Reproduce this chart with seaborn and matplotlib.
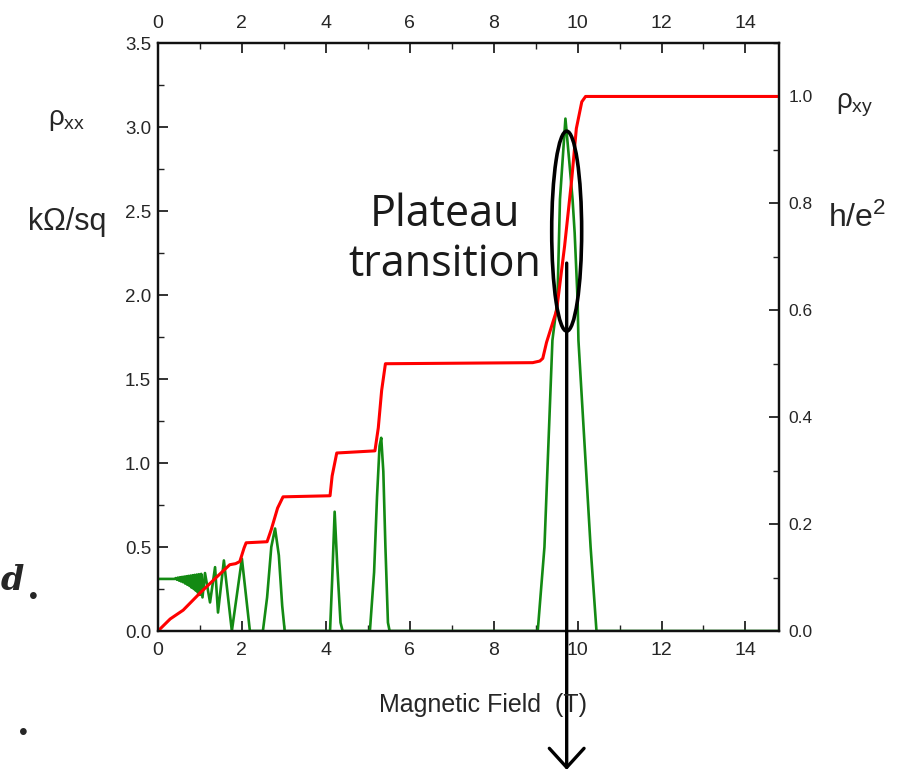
import numpy as np
import pandas as pd
import matplotlib
matplotlib.use("Agg")
import matplotlib.pyplot as plt
import matplotlib.transforms as mtransforms
from matplotlib.patches import Ellipse
from matplotlib.ticker import MultipleLocator, FormatStrFormatter
import seaborn as sns

# rho_xx (kOhm/sq, left axis)
b_xx = [0.0, 0.400, 0.425, 0.450, 0.475, 0.500, 0.525, 0.550, 0.575, 0.600, 0.625,
        0.650, 0.675, 0.700, 0.725, 0.750, 0.775, 0.800, 0.825, 0.850, 0.875,
        0.900, 0.925, 0.950, 0.975, 1.000, 1.030, 1.060,
        1.12, 1.24, 1.36, 1.43, 1.57, 1.76, 2.00, 2.19,
        2.50, 2.60, 2.70, 2.79, 2.88, 2.96, 3.02,
        4.10, 4.15, 4.21, 4.27, 4.35, 4.40,
        5.05, 5.15, 5.22, 5.28, 5.32, 5.37, 5.42, 5.48, 5.52,
        9.05, 9.21, 9.40, 9.52, 9.58, 9.71, 9.80, 9.88, 9.93, 10.00, 10.02,
        10.31, 10.45, 14.8]
rho_xx = [0.31, 0.310, 0.315, 0.305, 0.318, 0.300, 0.320, 0.295, 0.322, 0.290, 0.324,
          0.282, 0.326, 0.275, 0.328, 0.268, 0.330, 0.258, 0.332, 0.250, 0.334,
          0.240, 0.336, 0.228, 0.338, 0.215, 0.340, 0.200,
          0.345, 0.17, 0.38, 0.11, 0.42, 0.0, 0.43, 0.0,
          0.0, 0.2, 0.5, 0.61, 0.45, 0.15, 0.0,
          0.0, 0.3, 0.71, 0.4, 0.05, 0.0,
          0.0, 0.35, 0.8, 1.1, 1.15, 0.95, 0.5, 0.05, 0.0,
          0.0, 0.5, 1.73, 1.97, 2.57, 3.05, 2.8, 2.57, 2.37, 1.97, 1.73,
          0.5, 0.0, 0.0]

# rho_xy (h/e^2, right axis)
b_xy = [0.0, 0.29, 0.60, 1.00, 1.40, 1.71, 1.85, 1.95, 2.05, 2.10, 2.60, 2.70,
        2.85, 2.98, 4.10, 4.15, 4.26, 5.17, 5.25, 5.33, 5.42, 8.93, 9.10,
        9.17, 9.26, 9.50, 9.69, 9.86, 9.97, 10.10, 10.19, 14.8]
rho_xy = [0.0, 0.0225, 0.039, 0.071, 0.101, 0.124, 0.126, 0.13, 0.155, 0.165, 0.167, 0.19,
          0.23, 0.251, 0.253, 0.29, 0.333, 0.337, 0.38, 0.45, 0.5, 0.502, 0.505,
          0.51, 0.54, 0.60, 0.72, 0.845, 0.94, 0.99, 1.0, 1.0]

df_xx = pd.DataFrame({"B": b_xx, "rho": rho_xx})
df_xy = pd.DataFrame({"B": b_xy, "rho": rho_xy})

sns.set_theme(style="ticks")
plt.rcParams["font.family"] = ["Liberation Sans", "DejaVu Sans"]
plt.rcParams["mathtext.fontset"] = "custom"
plt.rcParams["mathtext.rm"] = "Liberation Sans"
plt.rcParams["mathtext.it"] = "Liberation Sans"

fig = plt.figure(figsize=(9.03, 7.73), dpi=100)
ax = fig.add_axes([158 / 903, 1 - 631 / 773, 621 / 903, 588 / 773])
ax2 = ax.twinx()

sns.lineplot(data=df_xx, x="B", y="rho", ax=ax, color="#138a13", lw=1.9,
             sort=False, estimator=None)
sns.lineplot(data=df_xy, x="B", y="rho", ax=ax2, color="#ff0000", lw=2.2,
             sort=False, estimator=None)

ax.set_xlim(0, 14.8)
ax.set_ylim(0, 3.5)
ax2.set_ylim(0, 1.1)
ax.set_xlabel("")
ax.set_ylabel("")
ax2.set_ylabel("")

ax.xaxis.set_major_locator(MultipleLocator(2))
ax.xaxis.set_minor_locator(MultipleLocator(1))
ax.yaxis.set_major_locator(MultipleLocator(0.5))
ax.yaxis.set_minor_locator(MultipleLocator(0.25))
ax.yaxis.set_major_formatter(FormatStrFormatter("%.1f"))
ax2.set_yticks([0, 0.2, 0.4, 0.6, 0.8, 1.0])
ax2.yaxis.set_minor_locator(MultipleLocator(0.1))
ax2.yaxis.set_major_formatter(FormatStrFormatter("%.1f"))

ax.tick_params(axis="x", which="both", direction="in", top=True, labeltop=True,
               labelsize=14, pad=8)
ax.tick_params(axis="y", which="both", direction="in", labelsize=13.5, pad=5)
ax2.tick_params(axis="y", which="both", direction="in", labelsize=12.5, pad=7)
for a in (ax, ax2):
    a.tick_params(which="major", length=7, width=1.3, color="#222222")
    a.tick_params(which="minor", length=4, width=1.0, color="#222222")
    for s in a.spines.values():
        s.set_visible(True)
        s.set_linewidth(1.6)
        s.set_color("#111111")

# axis titles
fig.text(67 / 903, 1 - 120 / 773, r"$\rho_{\rm xx}$", fontsize=20, ha="center", va="center")
fig.text(67 / 903, 1 - 222 / 773, "kΩ/sq", fontsize=22, ha="center", va="center")
fig.text(855 / 903, 1 - 105 / 773, r"$\rho_{\rm xy}$", fontsize=20, ha="center", va="center")
fig.text(828 / 903, 1 - 218 / 773, r"h/e$^{2}$", fontsize=23, ha="left", va="center")
fig.text(483 / 903, 1 - 705 / 773, "Magnetic Field  (T)", fontsize=18, ha="center", va="center")

# annotation
tr = ax.transData
ax2.text(6.83, 2.33, "Plateau\ntransition", transform=tr, fontsize=31,
         family=["Open Sans", "DejaVu Sans"], color="#1a1a1a",
         ha="center", va="center", linespacing=1.15)
ax2.add_patch(Ellipse((9.74, 2.38), 0.714, 1.19, transform=tr, fill=False,
                      ec="black", lw=2.6, zorder=5))
blend = mtransforms.blended_transform_factory(ax.transData, fig.transFigure)
ax2.annotate("", xy=(9.74, 0.004), xycoords=blend, xytext=(9.74, 2.19), textcoords=tr,
             arrowprops=dict(arrowstyle="->,head_length=0.55,head_width=0.5",
                             lw=2.4, color="black", mutation_scale=25,
                             shrinkA=0, shrinkB=0),
             annotation_clip=False, zorder=5)

# handwritten marks at the left edge
fig.text(1 / 903, 1 - 580 / 773, "d", fontsize=24, fontweight="bold", style="italic",
         family="DejaVu Serif", ha="left", va="center")
fig.text(33 / 903, 1 - 597 / 773, "•", fontsize=18, ha="center", va="center")
fig.text(23 / 903, 1 - 733 / 773, "•", fontsize=18, ha="center", va="center")

fig.savefig("out.png", dpi=100)
